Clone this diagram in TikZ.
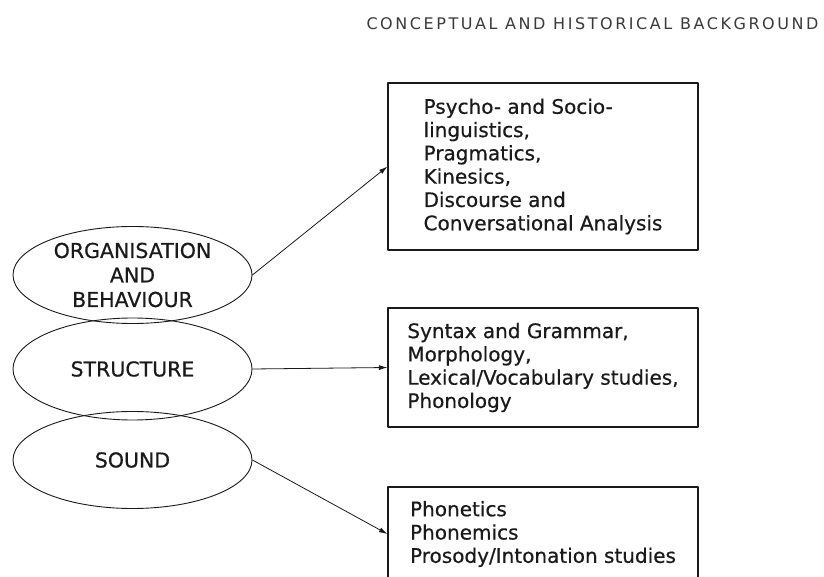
\documentclass[tikz,border=0pt]{standalone}
\usepackage{fontspec}
\setmainfont{DejaVu Sans}[FakeBold=0.5]
\usepackage{xcolor}
\usetikzlibrary{
  arrows.meta,
  shapes.geometric,
}
\definecolor{ink}{HTML}{1A1A1A}
\definecolor{headgray}{HTML}{3A3A3A}
\tikzset{
  pagefig/.style={
    x=1pt, y=1pt,
    font=\fontsize{20}{23.3}\selectfont,
    line join=round,
    line cap=round,
  },
  topic/.style={
    ellipse,
    draw=ink,
    line width=0.9pt,
    minimum width=239pt,
    minimum height=97pt,
    inner sep=0pt,
    align=center,
    text=ink,
    font=\fontsize{20.5}{24.5}\selectfont,
  },
  fieldbox/.style={
    rectangle,
    draw=ink,
    line width=1.1pt,
    inner sep=0pt,
    minimum width=310pt,
    align=left,
    text=ink,
  },
  link/.style={
    -{Latex[length=8.5pt, width=5pt]},
    line width=0.8pt,
    draw=ink,
  },
  runhead/.style={
    font=\fontsize{16}{18}\selectfont\addfontfeatures{LetterSpace=16,FakeBold=0},
    text=headgray,
  },
}

\begin{document}
\begin{tikzpicture}[pagefig]
  \def\W{824}
  \def\H{576}
  \path[use as bounding box, fill=white] (0,0) rectangle (\W,\H);
  \clip (0,0) rectangle (\W,\H);

  \node[runhead] (head) at (592.5,552.5) {CONCEPTUAL AND HISTORICAL BACKGROUND};

  % the three levels, stacked so that they overlap
  \def\ex{132.5}
  \node[topic] (org) at (\ex,301) {ORGANISATION\\AND\\BEHAVIOUR};
  \node[topic, minimum height=102pt] (struct) at (\ex,207) {STRUCTURE};
  \node[topic] (sound) at (\ex,116) {SOUND};

  % fields of study for each level
  \def\bx{543}
  \node[fieldbox, minimum height=167pt] (social) at (\bx,409.5)
    {Psycho- and Socio-\\
     linguistics,\\
     Pragmatics,\\
     Kinesics,\\
     Discourse and\\
     Conversational Analysis};
  \node[fieldbox, minimum height=119pt] (gram) at (\bx,208.5)
    {Syntax and Grammar,\\
     Morphology,\\
     Lexical/Vocabulary studies,\\
     Phonology};
  \node[fieldbox, minimum height=94pt] (phon) at (\bx,42)
    {Phonetics\\
     Phonemics\\
     Prosody/Intonation studies};

  \draw[link] (org.east) -- (social.west);
  \draw[link] (struct.east) -- (gram.west);
  \draw[link] (sound.east) -- (phon.west);
\end{tikzpicture}
\end{document}
